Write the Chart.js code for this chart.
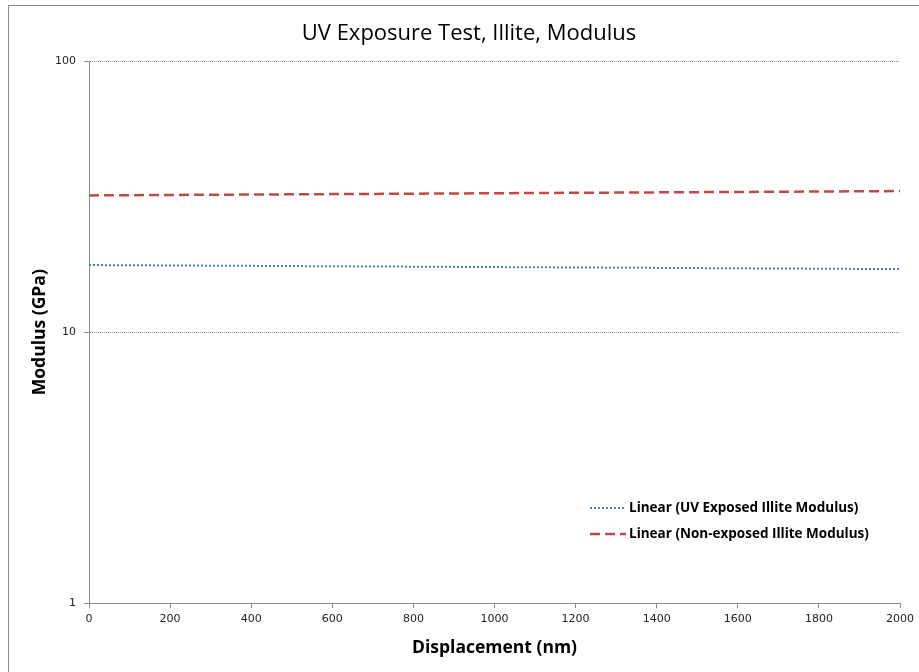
<!DOCTYPE html>
<html>
<head>
<meta charset="utf-8">
<title>UV Exposure Test, Illite, Modulus</title>
<script src="https://cdn.jsdelivr.net/npm/chart.js@4.4.1/dist/chart.umd.min.js"></script>
<style>
  html, body { margin: 0; padding: 0; background: #fff; }
  #wrap { width: 919px; height: 672px; position: relative; }
</style>
</head>
<body>
<div id="wrap"><canvas id="modChart" width="919" height="672"></canvas></div>
<script>
// displacement (nm) at the two ends of each trend line
var xValues = [0, 2000];
// linear trend of modulus (GPa)
var uvModulus = [17.7, 17.1];
var nonExposedModulus = [32.0, 33.2];
var seriesNames = ['Linear (UV Exposed Illite Modulus)', 'Linear (Non-exposed Illite Modulus)'];
var yTickValues = [1, 10, 100];
var xTickStep = 200;

function toPoints(xs, ys) {
  return xs.map(function (x, i) { return { x: x, y: ys[i] }; });
}

// outer frame of the chart object
var framePlugin = {
  id: 'frame',
  beforeDraw: function (chart) {
    var ctx = chart.ctx;
    ctx.save();
    ctx.fillStyle = '#fff';
    ctx.fillRect(0, 0, chart.width, chart.height);
    ctx.strokeStyle = '#8c8c8c';
    ctx.lineWidth = 1;
    ctx.strokeRect(8.5, 5.5, chart.width + 20, chart.height + 20);
    ctx.restore();
  }
};

// legend drawn inside the plot area, bottom right
var insideLegend = {
  id: 'insideLegend',
  afterDraw: function (chart) {
    var ctx = chart.ctx;
    var area = chart.chartArea;
    var x0 = area.right - 310;
    var y0 = area.bottom - 95;
    ctx.save();
    ctx.font = 'bold 13.5px "Open Sans"';
    ctx.textBaseline = 'middle';
    ctx.textAlign = 'left';
    chart.data.datasets.forEach(function (ds, i) {
      var y = y0 + i * 26;
      ctx.strokeStyle = ds.borderColor;
      ctx.lineWidth = ds.borderWidth;
      ctx.setLineDash(ds.borderDash || []);
      ctx.beginPath();
      ctx.moveTo(x0, y);
      ctx.lineTo(x0 + 36, y);
      ctx.stroke();
      ctx.setLineDash([]);
      ctx.fillStyle = '#000';
      ctx.fillText(ds.label, x0 + 39, y);
    });
    ctx.restore();
  }
};

var ctx = document.getElementById('modChart').getContext('2d');
var chart = new Chart(ctx, {
  type: 'line',
  data: {
    datasets: [
      {
        label: seriesNames[0],
        data: toPoints(xValues, uvModulus),
        borderColor: '#4a7ebb',
        borderWidth: 2,
        borderDash: [2, 2],
        pointRadius: 0,
        fill: false
      },
      {
        label: seriesNames[1],
        data: toPoints(xValues, nonExposedModulus),
        borderColor: '#be4b48',
        borderWidth: 2.5,
        borderDash: [10, 5],
        pointRadius: 0,
        fill: false
      }
    ]
  },
  options: {
    responsive: false,
    animation: false,
    layout: { padding: { left: 34, right: 15, top: 0, bottom: 0 } },
    plugins: {
      legend: { display: false },
      tooltip: { enabled: false },
      title: {
        display: true,
        text: 'UV Exposure Test, Illite, Modulus',
        color: '#000',
        font: { family: '"Open Sans"', size: 22, weight: 500, lineHeight: 1.2 },
        padding: { top: 21, bottom: 14 }
      }
    },
    scales: {
      x: {
        type: 'linear',
        min: xValues[0],
        max: xValues[xValues.length - 1],
        ticks: {
          stepSize: xTickStep,
          color: '#222',
          font: { family: '"DejaVu Sans"', size: 11 },
          padding: 5,
          maxRotation: 0,
          callback: function (v) { return String(v); }
        },
        grid: { drawOnChartArea: false, drawTicks: true, tickLength: 5, tickColor: '#8c8c8c' },
        border: { color: '#8c8c8c', width: 1 },
        title: {
          display: true,
          text: 'Displacement (nm)',
          color: '#000',
          font: { family: '"Open Sans"', size: 17.5, weight: 'bold', lineHeight: 1.2 },
          padding: { top: 0, bottom: 13 }
        },
        afterFit: function (scale) { scale.height = 69; }
      },
      y: {
        type: 'logarithmic',
        min: yTickValues[0],
        max: yTickValues[yTickValues.length - 1],
        afterBuildTicks: function (scale) {
          scale.ticks = yTickValues.map(function (v) { return { value: v }; });
        },
        ticks: {
          color: '#222',
          font: { family: '"DejaVu Sans"', size: 11 },
          padding: 8,
          callback: function (v) { return String(v); }
        },
        grid: { color: '#8c8c8c', lineWidth: 1, drawTicks: true, tickLength: 5, tickColor: '#8c8c8c' },
        border: { color: '#8c8c8c', width: 1, dash: [1, 1] },
        title: {
          display: true,
          text: 'Modulus (GPa)',
          color: '#000',
          font: { family: '"Open Sans"', size: 17.5, weight: 'bold', lineHeight: 1.2 },
          padding: { top: -4, bottom: 0 }
        },
        afterFit: function (scale) { scale.width = 55; }
      }
    }
  },
  plugins: [framePlugin, insideLegend]
});
</script>
</body>
</html>
